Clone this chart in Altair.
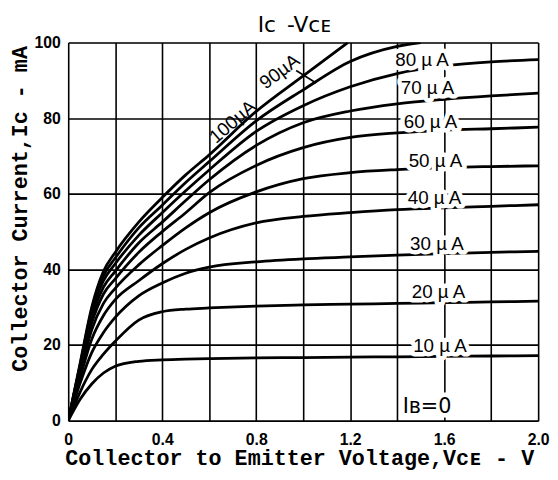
import altair as alt
import pandas as pd

# ---- data ----
vce = [0, 0.05, 0.1, 0.15, 0.2, 0.3, 0.4, 0.5, 0.6, 0.8, 1.0, 1.2, 1.4, 1.6, 1.8, 2.0]
ic_10uA = [0, 5.6, 9.7, 12.6, 14.4, 15.7, 16.1, 16.3, 16.4, 16.6, 16.7, 16.8, 16.9, 17.0, 17.1, 17.2]
ic_20uA = [0, 7.5, 13.5, 17.6, 21.0, 26.6, 28.8, 29.5, 29.8, 30.3, 30.6, 30.8, 31.0, 31.2, 31.4, 31.6]
ic_30uA = [0, 9.8, 18.0, 23.3, 27.3, 33.0, 36.4, 39.0, 40.6, 42.0, 42.8, 43.3, 43.8, 44.2, 44.5, 44.8]
ic_40uA = [0, 11.2, 21.5, 27.8, 32.0, 37.0, 41.5, 45.3, 48.3, 52.3, 54.0, 55.0, 55.8, 56.3, 56.7, 57.1]
ic_50uA = [0, 12.2, 24.0, 31.0, 35.0, 41.2, 46.3, 51.0, 55.0, 60.5, 64.0, 65.6, 66.4, 66.9, 67.2, 67.4]
ic_60uA = [0, 13.0, 25.8, 33.5, 37.5, 44.5, 50.0, 55.0, 60.3, 67.5, 72.2, 74.9, 76.1, 76.8, 77.2, 77.6]
ic_70uA = [0, 13.6, 27.2, 35.3, 39.5, 47.0, 52.5, 58.2, 63.7, 72.8, 78.8, 81.9, 83.8, 85.0, 85.9, 86.6]
ic_80uA = [0, 14.2, 28.5, 37.0, 41.5, 49.0, 55.0, 60.8, 66.3, 76.5, 83.3, 88.3, 91.8, 93.8, 94.9, 95.5]
vce_90 = [0, 0.05, 0.1, 0.15, 0.2, 0.3, 0.4, 0.5, 0.6, 0.8, 1.0, 1.2, 1.4, 1.5]
ic_90uA = [0, 14.6, 29.3, 38.3, 43.0, 51.0, 57.0, 63.0, 68.5, 79.3, 87.5, 95.0, 99.0, 100.0]
vce_100 = [0, 0.05, 0.1, 0.15, 0.2, 0.3, 0.4, 0.5, 0.6, 0.8, 1.0, 1.19]
ic_100uA = [0, 15.0, 30.0, 39.5, 44.5, 52.5, 59.0, 65.0, 70.3, 81.8, 91.2, 100.0]

x_grid = [0, 0.2, 0.4, 0.6, 0.8, 1.0, 1.2, 1.4, 1.6, 1.8, 2.0]
y_grid = [0, 10, 20, 30, 40, 50, 60, 70, 80, 90, 100]

label_text = ["80 µ A", "70 µ A", "60 µ A", "50 µ A", "40 µ A", "30 µ A", "20 µ A", "10 µ A"]
label_vce = [1.506, 1.529, 1.542, 1.563, 1.559, 1.569, 1.576, 1.582]
label_ic = [95.3, 88.0, 78.9, 68.7, 58.8, 46.8, 34.0, 19.7]

ib0_text = ["Iʙ=0"]
ib0_vce = [1.527]
ib0_ic = [3.6]

rot_text = ["100µA", "90µA"]
rot_vce = [0.70, 0.90]
rot_ic = [79.0, 92.3]
rot_angle = [319, 323]

leader_vce = [0.97, 1.055]
leader_ic = [92.6, 89.3]

title_text = ["Iᴄ\u2002-Vᴄᴇ"]

# ---- tables ----
rows = []
for name, xs, ys in [
    ("10", vce, ic_10uA), ("20", vce, ic_20uA), ("30", vce, ic_30uA),
    ("40", vce, ic_40uA), ("50", vce, ic_50uA), ("60", vce, ic_60uA),
    ("70", vce, ic_70uA), ("80", vce, ic_80uA), ("90", vce_90, ic_90uA),
    ("100", vce_100, ic_100uA),
]:
    for a, b in zip(xs, ys):
        rows.append({"ib": name, "vce": a, "ic": b})
curves_df = pd.DataFrame(rows)
labels_df = pd.DataFrame({"t": label_text, "vce": label_vce, "ic": label_ic})
ib0_df = pd.DataFrame({"t": ib0_text, "vce": ib0_vce, "ic": ib0_ic})
rot_df = pd.DataFrame({"t": rot_text, "vce": rot_vce, "ic": rot_ic, "a": rot_angle})
leader_df = pd.DataFrame({"vce": leader_vce, "ic": leader_ic})
title_df = pd.DataFrame({"t": title_text})

xscale = alt.Scale(domain=[0, 2], nice=False, zero=False)
yscale = alt.Scale(domain=[0, 100], nice=False)

x_axis = alt.Axis(
    values=x_grid,
    labelExpr="datum.value == 0 ? '0' : (round(datum.value * 10) % 4 == 0 ? format(datum.value, '.1f') : '')",
    title="Collector to Emitter Voltage,Vᴄᴇ - V",
    titleX=234, titleY=44, titleAlign="center", titleBaseline="alphabetic",
    titleFont="Liberation Mono", titleFontWeight="bold", titleFontSize=22, titleColor="black",
    labelFont="Liberation Sans", labelFontWeight="bold", labelFontSize=16, labelColor="black",
    labelPadding=11, labelFlush=False,
    domain=False, ticks=False, grid=True, gridColor="black", gridWidth=1.6, gridOpacity=1,
)
y_axis = alt.Axis(
    values=y_grid,
    labelExpr="datum.value % 20 == 0 ? datum.label : ''",
    title="Collector Current,Iᴄ - mA",
    titleAngle=270, titleX=-49, titleY=168, titleAlign="center", titleBaseline="middle",
    titleFont="Liberation Mono", titleFontWeight="bold", titleFontSize=22, titleColor="black",
    labelFont="Liberation Sans", labelFontWeight="bold", labelFontSize=16, labelColor="black",
    labelPadding=8, labelFlush=False,
    domain=False, ticks=False, grid=True, gridColor="black", gridWidth=1.6, gridOpacity=1,
)

curves = alt.Chart(curves_df).mark_line(
    color="black", strokeWidth=2.8, interpolate="monotone", clip=True
).encode(
    x=alt.X("vce:Q", scale=xscale, axis=x_axis),
    y=alt.Y("ic:Q", scale=yscale, axis=y_axis),
    detail="ib:N",
    order="vce:Q",
)

halo = alt.Chart(labels_df).mark_text(
    font="Liberation Sans", fontSize=19, color="white", stroke="white", strokeWidth=9,
    strokeJoin="round", align="center", baseline="middle"
).encode(x=alt.X("vce:Q", scale=xscale), y=alt.Y("ic:Q", scale=yscale), text="t:N")

texts = alt.Chart(labels_df).mark_text(
    font="Liberation Sans", fontSize=19, color="black", align="center", baseline="middle"
).encode(x=alt.X("vce:Q", scale=xscale), y=alt.Y("ic:Q", scale=yscale), text="t:N")

ib0_halo = alt.Chart(ib0_df).mark_text(
    font="DejaVu Sans", fontSize=21, color="white", stroke="white", strokeWidth=9,
    strokeJoin="round", align="center", baseline="middle"
).encode(x=alt.X("vce:Q", scale=xscale), y=alt.Y("ic:Q", scale=yscale), text="t:N")

ib0 = alt.Chart(ib0_df).mark_text(
    font="DejaVu Sans", fontSize=21, color="black", align="center", baseline="middle"
).encode(x=alt.X("vce:Q", scale=xscale), y=alt.Y("ic:Q", scale=yscale), text="t:N")

rot_texts = alt.Chart(rot_df).mark_text(
    font="Liberation Sans", fontSize=19, color="black", align="center", baseline="middle"
).encode(
    x=alt.X("vce:Q", scale=xscale), y=alt.Y("ic:Q", scale=yscale), text="t:N",
    angle=alt.Angle("a:Q", scale=None),
)

leader = alt.Chart(leader_df).mark_line(color="black", strokeWidth=1.6).encode(
    x=alt.X("vce:Q", scale=xscale), y=alt.Y("ic:Q", scale=yscale)
)

title = alt.Chart(title_df).mark_text(
    font="DejaVu Sans", fontSize=22, color="black", align="center", baseline="alphabetic"
).encode(x=alt.value(229), y=alt.value(-11), text="t:N")

chart = alt.layer(curves, halo, ib0_halo, leader, texts, ib0, rot_texts, title).properties(
    width=476, height=383,
    autosize=alt.AutoSizeParams(type="none"),
    padding={"left": 61, "top": 32, "right": 12, "bottom": 48},
).configure_view(stroke="black", strokeWidth=2.5).configure(background="white")

chart.save("out.html", embed_options={"renderer": "svg", "actions": False})
